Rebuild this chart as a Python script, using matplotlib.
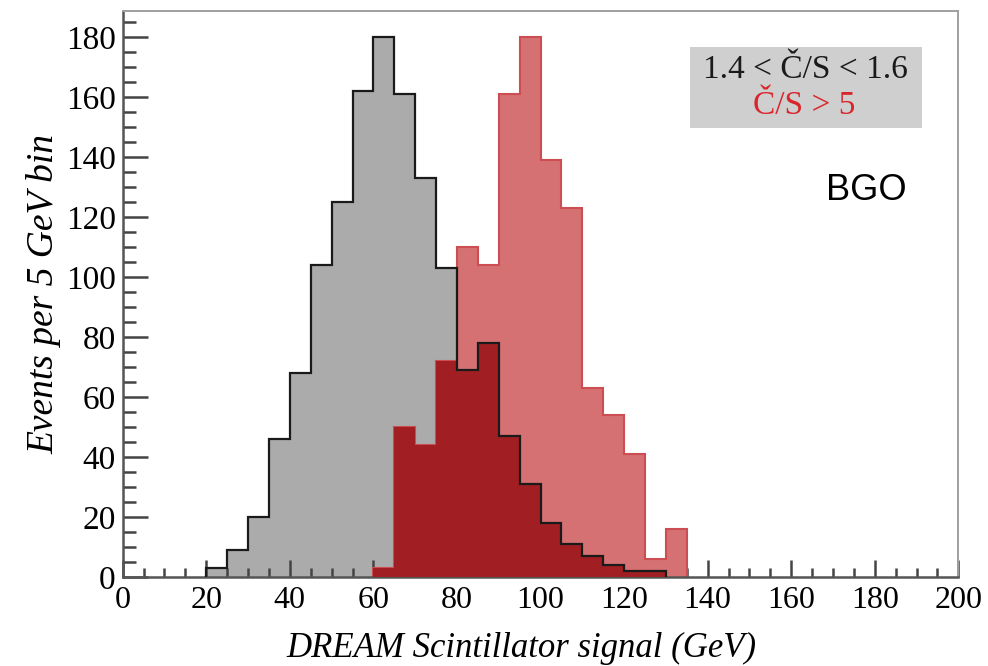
import numpy as np
import matplotlib
matplotlib.use("Agg")
import matplotlib.pyplot as plt
from matplotlib.ticker import MultipleLocator

# 5 GeV bins
edges_gray = np.arange(20, 135, 5)      # 20 .. 130
edges_red = np.arange(60, 140, 5)       # 60 .. 135

# 1.4 < C/S < 1.6 sample
gray_counts = [3, 9, 20, 46, 68, 104, 125, 162, 180, 161, 133, 103,
               69, 78, 47, 31, 18, 11, 7, 4, 2, 2]
# C/S > 5 sample
red_counts = [3, 50, 44, 72, 110, 104, 161, 180, 139, 123, 63, 54, 41, 6, 16]

x_ticks = np.arange(0, 201, 20)
y_ticks = np.arange(0, 181, 20)

gray_counts = np.array(gray_counts)
red_counts = np.array(red_counts)

# overlap region (both samples present) drawn in dark red
edges_all = np.arange(20, 140, 5)
g_full = np.zeros(len(edges_all) - 1)
r_full = np.zeros(len(edges_all) - 1)
g_full[:len(gray_counts)] = gray_counts
r_full[(60 - 20) // 5:(60 - 20) // 5 + len(red_counts)] = red_counts
overlap = np.minimum(g_full, r_full)

serif = ["Liberation Serif", "DejaVu Serif"]

fig = plt.figure(figsize=(9.88, 6.66), dpi=100)
ax = fig.add_axes([0.1242, 0.1329, 0.8458, 0.8506])

ax.stairs(gray_counts, edges_gray, fill=True, color="#ababab", zorder=1)
ax.stairs(red_counts, edges_red, fill=True, facecolor="#d57173", zorder=2)
ax.stairs(red_counts, edges_red, fill=False, edgecolor="#cc4d52", lw=1.5, zorder=2)
ax.stairs(overlap, edges_all, fill=True, color="#a11f23", zorder=3)
ax.stairs(gray_counts, edges_gray, fill=False, baseline=0, edgecolor="#1a1a1a",
          lw=1.6, zorder=4)

ax.set_xlim(0, 200)
ax.set_ylim(0, 188.8)
ax.set_xticks(x_ticks)
ax.set_yticks(y_ticks)
ax.xaxis.set_minor_locator(MultipleLocator(5))
ax.yaxis.set_minor_locator(MultipleLocator(5))

ax.tick_params(axis="both", which="both", direction="in", color="#444444", width=1.8)
ax.tick_params(axis="x", which="major", length=12, pad=6)
ax.tick_params(axis="x", which="minor", length=6.5)
ax.tick_params(axis="y", which="major", length=18, pad=5)
ax.tick_params(axis="y", which="minor", length=9)
ax.tick_params(top=False, right=False, which="both")

for lab in ax.get_xticklabels():
    lab.set_family(serif)
    lab.set_fontsize(23)
for lab in ax.get_yticklabels():
    lab.set_family(serif)
    lab.set_fontsize(24)

for side in ["left", "bottom"]:
    ax.spines[side].set_color("#555555")
    ax.spines[side].set_linewidth(1.8)
for side in ["top", "right"]:
    ax.spines[side].set_color("#a0a0a0")
    ax.spines[side].set_linewidth(1.4)

ax.set_xlabel("DREAM Scintillator signal (GeV)", family=serif, style="italic",
              fontsize=25, labelpad=12)
ax.xaxis.label.set_x(0.477)
ax.set_ylabel("Events per 5 GeV bin", family=serif, style="italic",
              fontsize=27, labelpad=3)

# legend box
fig.patches.append(plt.Rectangle((690.0 / 988, 1 - 128.3 / 666), (921.7 - 690) / 988,
                                 (128.3 - 46.7) / 666, transform=fig.transFigure,
                                 facecolor="#cfcfcf", edgecolor="none", zorder=5,
                                 figure=fig))
fig.text(805 / 988, 1 - 70 / 666, "1.4 < Č/S < 1.6", family=serif, fontsize=24,
         color="#1a1a1a", ha="center", va="center", zorder=6)
fig.text(804 / 988, 1 - 106 / 666, "Č/S > 5", family=serif, fontsize=24,
         color="#d8262b", ha="center", va="center", zorder=6)

fig.text(866 / 988, 1 - 191 / 666, "BGO", family=["Liberation Sans", "DejaVu Sans"],
         fontsize=26, color="black", ha="center", va="center")

fig.savefig("out.png", dpi=100)
